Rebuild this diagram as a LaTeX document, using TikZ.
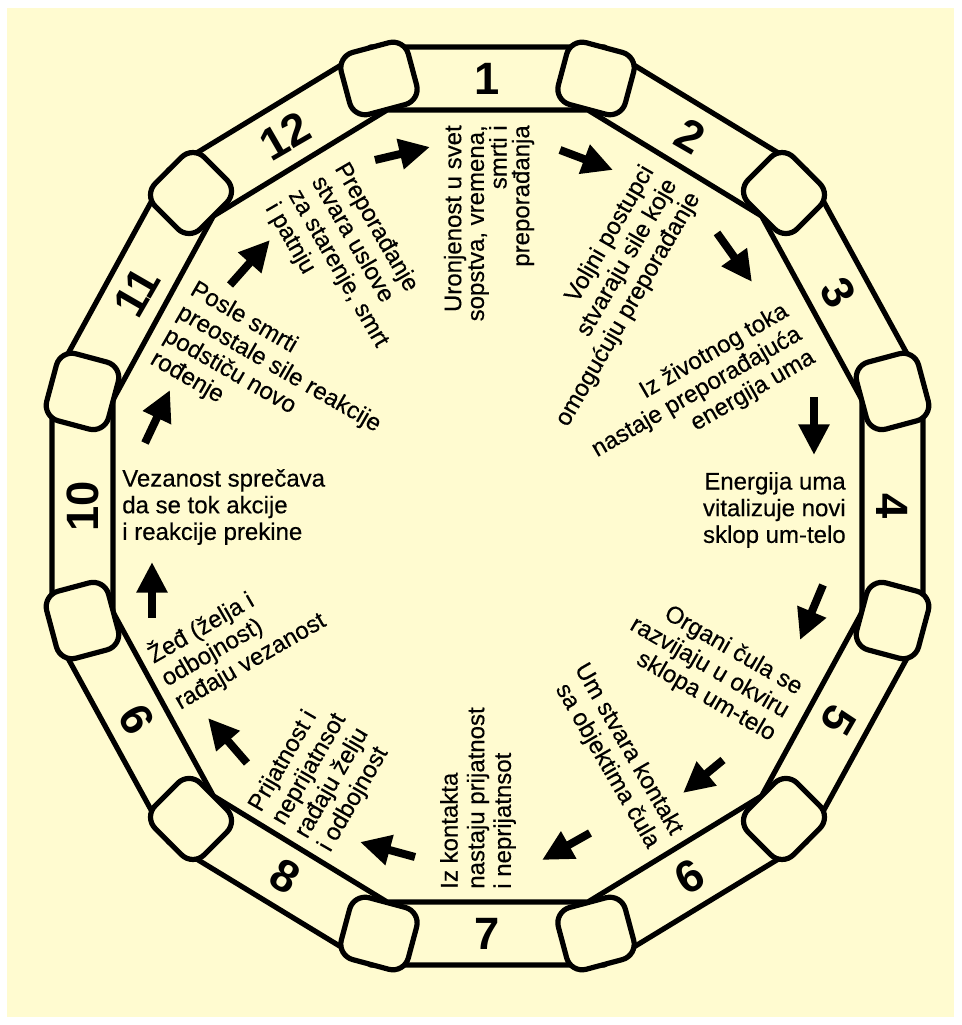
\documentclass[tikz,border=0pt]{standalone}
\usepackage{fontspec}
\usepackage{graphicx}
\setmainfont{Liberation Sans}
\newfontfamily\lblfont{Liberation Sans}[FakeBold=0.4]
\usetikzlibrary{arrows.meta,calc}
\definecolor{bg}{RGB}{255,251,208}
\begin{document}
\begin{tikzpicture}[x=0.75pt,y=0.75pt,
  chainline/.style={line width=3.9pt, line join=round},
  joint/.style={draw, line width=3.9pt, fill=bg, rounded corners=12pt,
    minimum width=52pt, minimum height=48pt, inner sep=0pt},
  txt/.style={font=\lblfont\fontsize{18}{20}\selectfont, inner sep=0pt},
  rtxt/.style={txt, align=right, anchor=east},
  ltxt/.style={txt, align=left, anchor=west},
  num/.style={font=\fontsize{34}{34}\selectfont\bfseries, inner sep=0pt},
  flow/.style={line width=6pt, -{Triangle[length=23pt,width=22pt]}}]
\useasboundingbox (0,0) rectangle (961,1025);
\fill[white] (0,0) rectangle (961,1025);
\fill[bg] (7,8) rectangle (954,1017);
% chain: outer and inner outlines
\draw[chainline] ({487.5+450.9*cos(15)},{519+475.2*sin(15)})
  \foreach \a in {45,75,...,345} {-- ({487.5+450.9*cos(\a)},{519+475.2*sin(\a)})} -- cycle;
\draw[chainline] ({487.5+387.7*cos(15)},{519+410.0*sin(15)})
  \foreach \a in {45,75,...,345} {-- ({487.5+387.7*cos(\a)},{519+410.0*sin(\a)})} -- cycle;
% joints
\foreach \a [count=\i] in {15,45,...,345}
  \node[joint, rotate={\a-90}] (j\i) at ({487.5+419.3*cos(\a)},{519+442.6*sin(\a)}) {};
% link numbers
\foreach \k/\r in {1/0,2/-30,3/-60,4/-90,5/-120,6/30,7/0,8/-30,9/120,10/90,11/60,12/30}
  \node[num, rotate=\r] (n\k) at ({487.5+405*cos(90-30*(\k-1))},{519+427.5*sin(90-30*(\k-1))}) {\k};
% texts
\node[rtxt, rotate=90, font=\lblfont\fontsize{18}{17}\selectfont] (t1) at (489,900) {Uronjenost u svet\\sopstva, vremena,\\smrti i\\preporađanja};
\node[rtxt, rotate=60] (t2) at (672,844) {Voljni postupci\\stvaraju sile koje\\omogućuju preporađanje};
\node[rtxt, rotate=30] (t3) at (800,692) {Iz životnog toka\\nastaje preporađajuća\\energija uma};
\node[rtxt] (t4) at (846,515) {Energija uma\\vitalizuje novi\\sklop um-telo};
\node[rtxt, rotate=-30] (t5) at (787,312) {Organi čula se\\razvijaju u okviru\\sklopa um-telo};
\node[rtxt, rotate=-60] (t6) at (665,185) {Um stvara kontakt\\sa objektima čula};
\node[ltxt, rotate=90] (t7) at (478,136) {Iz kontakta\\nastaju prijatnost\\i neprijatnsot};
\node[ltxt, rotate=60] (t8) at (290,195) {Prijatnost i\\neprijatnsot\\rađaju želju\\i odbojnost};
\node[ltxt, rotate=30] (t9) at (163,345) {Žeđ (želja i\\odbojnost)\\rađaju vezanost};
\node[ltxt] (t10) at (122,518) {Vezanost sprečava\\da se tok akcije\\i reakcije prekine};
\node[ltxt, rotate=-30] (t11) at (172,702) {Posle smrti\\preostale sile reakcije\\podstiču novo\\rođenje};
\node[ltxt, rotate=-60] (t12) at (305,840) {Preporađanje\\stvara uslove\\za starenje, smrt\\i patnju};
% arrows
\coordinate (s1) at (375,865);  \coordinate (e1) at (430,878);
\coordinate (s2) at (560,875);  \coordinate (e2) at (613,855);
\coordinate (s3) at (717,792);  \coordinate (e3) at (752,743);
\coordinate (s4) at (814,628);  \coordinate (e4) at (814,570);
\coordinate (s5) at (823,440);  \coordinate (e5) at (800,385);
\coordinate (s6) at (723,265);  \coordinate (e6) at (683,232);
\coordinate (s7) at (590,192);  \coordinate (e7) at (542,165);
\coordinate (s8) at (415,168);  \coordinate (e8) at (360,183);
\coordinate (s9) at (247,262);  \coordinate (e9) at (208,307);
\coordinate (s10) at (152,407); \coordinate (e10) at (152,463);
\coordinate (s11) at (145,582); \coordinate (e11) at (170,635);
\coordinate (s12) at (230,740); \coordinate (e12) at (270,785);
\foreach \i in {1,...,12} \draw[flow] (s\i) -- (e\i);
\end{tikzpicture}
\end{document}
